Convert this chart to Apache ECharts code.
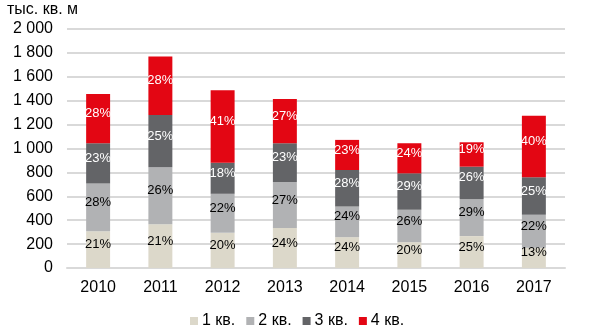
<!DOCTYPE html>
<html><head><meta charset="utf-8">
<script src="https://cdn.jsdelivr.net/npm/echarts@6/dist/echarts.min.js"></script>
<style>html,body{margin:0;padding:0;background:#fff}#c{width:600px;height:331px}</style>
</head><body><div id="c"></div>
<script>
var years = ['2010','2011','2012','2013','2014','2015','2016','2017'];
var q1 = [308, 367, 294, 334, 258, 216, 267, 169];
var q2 = [400, 476, 327, 385, 257, 271, 310, 276];
var q3 = [336, 438, 260, 325, 305, 305, 271, 314];
var q4 = [413, 489, 607, 371, 252, 252, 204, 516];
var p1 = ['21%','21%','20%','24%','24%','20%','25%','13%'];
var p2 = ['28%','26%','22%','27%','24%','26%','29%','22%'];
var p3 = ['23%','25%','18%','23%','28%','29%','26%','25%'];
var p4 = ['28%','28%','41%','27%','23%','24%','19%','40%'];
var names = ['1 кв.','2 кв.','3 кв.','4 кв.'];
var colors = ['#dcd8ca','#b1b2b4','#636467','#e30613'];
var labelColors = ['#000','#000','#fff','#fff'];
var FONT = '"Liberation Sans", Arial, sans-serif';

function mk(i, data, pct){
  return {
    name: names[i], type:'bar', stack:'a', data:data, barWidth:'38.5%',
    itemStyle:{color:colors[i]},
    label:{show:true, position:'inside', offset:[0,-5], color:labelColors[i],
      fontFamily:FONT, fontSize:13,
      formatter:function(p){return pct[p.dataIndex];}},
    emphasis:{disabled:true}
  };
}
var chart = echarts.init(document.getElementById('c'), null, {renderer:'canvas'});
chart.setOption({
  animation:false,
  textStyle:{fontFamily:FONT},
  title:{text:'тыс. кв. м', left:7, top:0, padding:[2,0,0,0],
    textStyle:{fontFamily:FONT, fontSize:16, fontWeight:'normal', color:'#000'}},
  grid:{left:67, right:35, top:29, bottom:63},
  legend:{left:185, top:308, icon:'rect', itemWidth:8, itemHeight:8, itemGap:11,
    textStyle:{fontFamily:FONT, fontSize:16, color:'#000', padding:[0,0,0,-1]}, data:names},
  xAxis:{type:'category', data:years, axisTick:{show:false},
    axisLine:{lineStyle:{color:'#d9d9d9', width:2}},
    axisLabel:{fontFamily:FONT, fontSize:16, color:'#000', margin:12}},
  yAxis:{type:'value', min:0, max:2000, interval:200,
    axisLine:{show:false}, axisTick:{show:false},
    splitLine:{lineStyle:{color:'#d9d9d9', width:2}},
    axisLabel:{fontFamily:FONT, fontSize:16, color:'#000', margin:14,
      formatter:function(v){return String(v).replace(/\B(?=(\d{3})+(?!\d))/g,' ');}}},
  series:[mk(0,q1,p1), mk(1,q2,p2), mk(2,q3,p3), mk(3,q4,p4)]
});
</script></body></html>
